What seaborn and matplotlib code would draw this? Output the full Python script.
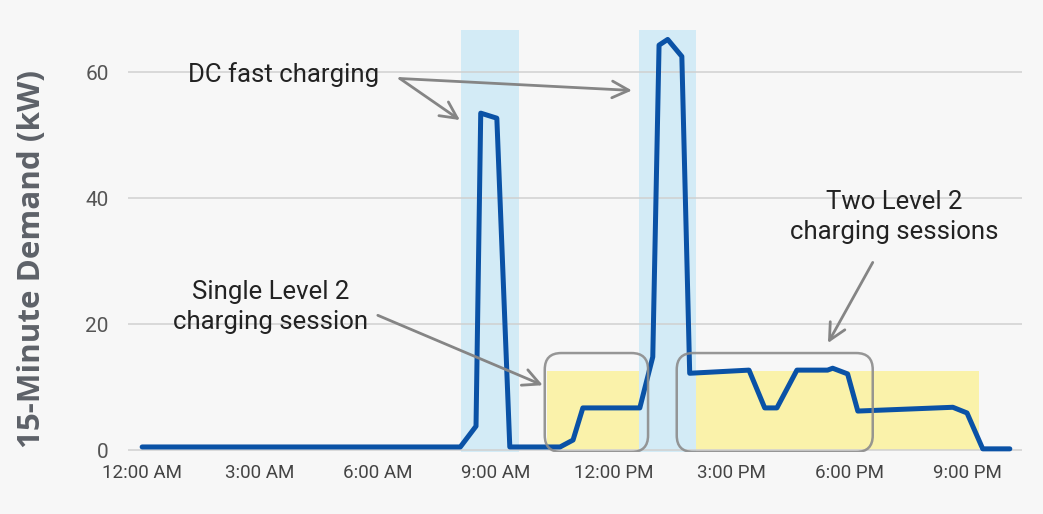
import matplotlib
matplotlib.use("Agg")
from matplotlib import pyplot as plt
from matplotlib.patches import FancyBboxPatch
import seaborn as sns

# demand profile (hours after midnight, kW)
hours = [0, 8.1, 8.5, 8.62, 9.03, 9.36, 10.64, 10.97, 11.22, 12.67, 13.0, 13.16,
         13.38, 13.74, 13.94, 15.45, 15.85, 16.16, 16.67, 17.45, 17.58, 17.96,
         18.22, 20.64, 21.0, 21.4, 22.09]
kw = [0.5, 0.5, 3.8, 53.5, 52.7, 0.5, 0.5, 1.6, 6.7, 6.7, 14.8, 64.3,
      65.2, 62.5, 12.2, 12.7, 6.7, 6.7, 12.7, 12.7, 13.0, 12.1,
      6.2, 6.8, 5.9, 0.2, 0.2]

tick_hours = [0, 3, 6, 9, 12, 15, 18, 21]
tick_labels = ['12:00 AM', '3:00 AM', '6:00 AM', '9:00 AM',
               '12:00 PM', '3:00 PM', '6:00 PM', '9:00 PM']
y_ticks = [0, 20, 40, 60]

dc_spans = [(8.12, 9.6), (12.65, 14.1)]
l2_spans = [(10.3, 12.65), (14.1, 21.3)]
l2_height = 12.5
boxes = [(10.25, 12.88), (13.61, 18.6)]
box_top = 15.4

bg = '#f7f7f7'
sns.set_style('white', {'axes.facecolor': bg, 'figure.facecolor': bg})
plt.rcParams['font.family'] = ['Roboto', 'DejaVu Sans']

fig = plt.figure(figsize=(10.43, 5.14), dpi=100)
ax = fig.add_axes([128 / 1043, 62 / 514, 894 / 1043, 422 / 514])

ymin, ymax = -0.3, 66.7
ax.set_xlim(-0.36, 22.4)
ax.set_ylim(ymin, ymax)

for a, b in dc_spans:
    ax.axvspan(a, b, color='#d3ebf6', zorder=0, lw=0)
for a, b in l2_spans:
    ax.fill_between([a, b], 0, l2_height, color='#faf2aa', zorder=0.5, lw=0)

for y in y_ticks:
    ax.axhline(y, color='#d0d0d0', lw=1.1, zorder=0.6)

sns.lineplot(x=hours, y=kw, ax=ax, color='#0a52a6', linewidth=3.6, zorder=3)

# rounded outline boxes, aspect corrected so corners are circular
px_x = ax.bbox.width / (22.4 + 0.36)
px_y = ax.bbox.height / (ymax - ymin)
aspect = px_x / px_y
for a, b in boxes:
    p = FancyBboxPatch((a, ymin + 0.01), b - a, box_top - ymin,
                       boxstyle='round,pad=0,rounding_size=0.42',
                       mutation_aspect=aspect, fill=False,
                       ec='#8c8c8c', lw=1.8, alpha=0.9, zorder=4)
    ax.add_patch(p)

ax.set_xticks(tick_hours)
ax.set_xticklabels(tick_labels)
ax.set_yticks(y_ticks)
ax.tick_params(axis='x', length=0, pad=9, labelsize=13.5, labelcolor='#444444')
ax.tick_params(axis='y', length=0, pad=14, labelsize=15, labelcolor='#555555')
for s in ax.spines.values():
    s.set_visible(False)
ax.set_xlabel('')
ax.set_ylabel('15-Minute Demand (kW)', fontsize=22.6, fontweight='bold',
              color='#5d6168', family=['Open Sans', 'DejaVu Sans'])
ax.yaxis.set_label_coords(-0.091, 0.458)

arrow = dict(arrowstyle='->', color='#858585', lw=2, mutation_scale=30,
             shrinkA=0, shrinkB=0)
txt = dict(fontsize=18.5, color='#222222', ha='center', va='center', linespacing=1.3)

ax.text(3.59, 59.6, 'DC fast charging', **txt)
ax.annotate('', xy=(8.09, 52.4), xytext=(6.56, 59.0), arrowprops=arrow)
ax.annotate('', xy=(12.47, 57.1), xytext=(6.56, 59.0), arrowprops=arrow)

ax.text(3.26, 22.7, 'Single Level 2\ncharging session', **txt)
ax.annotate('', xy=(10.2, 10.3), xytext=(6.0, 21.4), arrowprops=arrow)

ax.text(19.16, 37.0, 'Two Level 2\ncharging sessions', **txt)
ax.annotate('', xy=(17.46, 17.0), xytext=(18.6, 29.8), arrowprops=arrow)

fig.savefig('out.png', dpi=100, facecolor=bg)
